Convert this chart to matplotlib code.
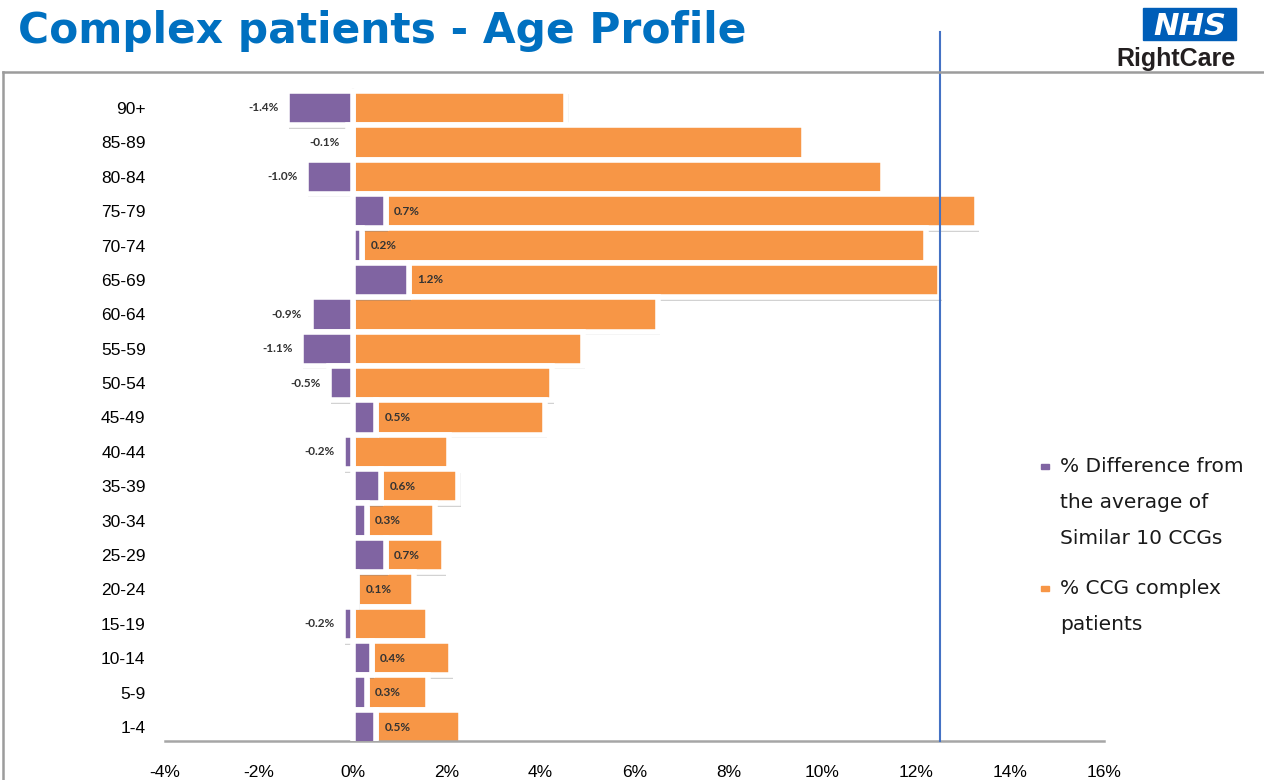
import numpy as np
import matplotlib
matplotlib.use("Agg")
import matplotlib.pyplot as plt
import matplotlib.patheffects as pe
from matplotlib.patches import Rectangle
from matplotlib.lines import Line2D

plt.rcParams['font.family'] = ['Liberation Sans', 'DejaVu Sans']

# age bands, oldest first
ages = ['90+', '85-89', '80-84', '75-79', '70-74', '65-69', '60-64', '55-59',
        '50-54', '45-49', '40-44', '35-39', '30-34', '25-29', '20-24', '15-19',
        '10-14', '5-9', '1-4']
# % difference from the average of similar 10 CCGs
diff = [-1.4, -0.1, -1.0, 0.7, 0.2, 1.2, -0.9, -1.1, -0.5, 0.5, -0.2, 0.6,
        0.3, 0.7, 0.1, -0.2, 0.4, 0.3, 0.5]
# % CCG complex patients
ccg = [4.55, 9.6, 11.3, 12.6, 12.0, 11.3, 6.5, 4.9, 4.25, 3.6, 2.05, 1.65,
       1.45, 1.25, 1.2, 1.6, 1.7, 1.3, 1.8]
xticks = [-4, -2, 0, 2, 4, 6, 8, 10, 12, 14, 16]
ref_line = 12.5

PURPLE = '#8064A2'
ORANGE = '#F79646'
TITLE_BLUE = '#0070C0'
NHS_BLUE = '#005EB8'

fig = plt.figure(figsize=(12.64, 7.8), dpi=100)
W, H = 1264, 780
ax = fig.add_axes([165 / W, 1 - 741 / H, (1104 - 165) / W, (741 - 88) / H])

y = np.arange(len(ages))
d = np.array(diff)
base = np.maximum(d, 0)

shadow = [pe.SimplePatchShadow(offset=(1.5, -2.5), shadow_rgbFace='0.5', alpha=0.35), pe.Normal()]
ax.barh(y, ccg, left=base, height=1.0, color=ORANGE, edgecolor='white',
        linewidth=4, path_effects=shadow, zorder=2)
ax.barh(y, d, height=1.0, color=PURPLE, edgecolor='white',
        linewidth=4, path_effects=shadow, zorder=3)

# difference labels: just beyond the end of the purple bar
for yi, v in zip(y, d):
    off = 6 if v > 0 else -6
    ax.annotate(f'{v:.1f}%', (v, yi), xytext=(off, 0), textcoords='offset points',
                ha='left' if v > 0 else 'right', va='center', fontsize=8.5,
                family=['Lato', 'DejaVu Sans'], fontweight='bold',
                color='#333333', zorder=4)

ax.axvline(0, color='#8c8c8c', lw=1.5, zorder=1)
ax.axvline(ref_line, ymin=0, ymax=(741 - 32) / (741 - 88), color='#4472C4',
           lw=1.5, clip_on=False, zorder=5)

# row pitch ~34.4 px; first band sits 20 px under the top, last 14 px above the axis
pitch = 653 / (len(ages) - 1 + 34 / 34.4)
ax.set_xlim(-4, 16)
ax.set_ylim(len(ages) - 1 + 14 / pitch, -20 / pitch)
ax.set_yticks(y)
ax.set_yticklabels(ages)
ax.set_xticks(xticks)
ax.set_xticklabels([f'{t}%' for t in xticks])
ax.tick_params(axis='y', length=0, pad=14, labelsize=12.5)
ax.tick_params(axis='x', length=0, pad=17, labelsize=12.5)
for s in ['top', 'right', 'left']:
    ax.spines[s].set_visible(False)
ax.spines['bottom'].set_color('#a6a6a6')
ax.spines['bottom'].set_linewidth(1.8)

# slide frame
fig.add_artist(Line2D([3 / W, 1], [1 - 72 / H, 1 - 72 / H], color='#9c9c9c', lw=1.8))
fig.add_artist(Line2D([3 / W, 3 / W], [0, 1 - 72 / H], color='#9c9c9c', lw=1.8))

# title and logo
fig.text(18 / W, 1 - 43 / H, 'Complex patients - Age Profile', fontsize=30.5,
         family=['DejaVu Sans'], fontweight='bold', color=TITLE_BLUE,
         va='baseline', ha='left')
fig.add_artist(Rectangle((1143 / W, 1 - 40 / H), 93 / W, 32 / H,
                         transform=fig.transFigure, color=NHS_BLUE))
fig.text(1189.5 / W, 1 - 35 / H, 'NHS', fontsize=22, family=['DejaVu Sans'],
         fontweight='bold', fontstyle='italic', color='white',
         ha='center', va='baseline')
fig.text(1236 / W, 1 - 66 / H, 'RightCare', fontsize=18, fontweight='bold',
         color='#231f20', ha='right', va='baseline')

# legend
legend_items = [(PURPLE, ['% Difference from', 'the average of', 'Similar 10 CCGs'], 466),
                (ORANGE, ['% CCG complex', 'patients'], 588)]
for col, lines, y0 in legend_items:
    fig.add_artist(Rectangle((1041 / W, 1 - (y0 + 2.5) / H), 8 / W, 5 / H,
                             transform=fig.transFigure, color=col))
    for i, txt in enumerate(lines):
        fig.text(1060 / W, 1 - (y0 + 36 * i) / H, txt, fontsize=14.5,
                 family=['DejaVu Sans'], color='#1a1a1a', ha='left', va='center')

fig.savefig('out.png', dpi=100)
